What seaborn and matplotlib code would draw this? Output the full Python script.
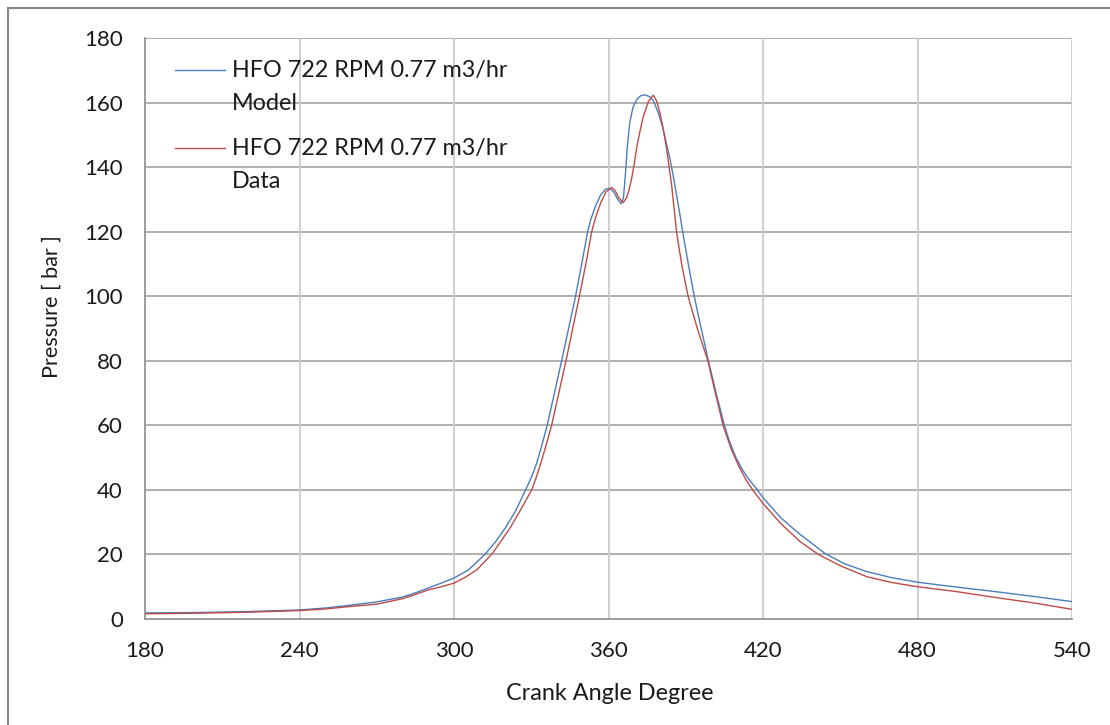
import numpy as np
import pandas as pd
import seaborn as sns
import matplotlib.pyplot as plt
from matplotlib.lines import Line2D
from matplotlib.legend_handler import HandlerLine2D

# Cylinder pressure vs crank angle, model vs measured
model_angle = [180, 200, 220, 240, 250, 260, 270, 280, 285, 290, 295, 300, 305.6, 312, 316,
               320, 324, 327.8, 330, 332, 334, 336.2, 339, 341.8, 344.5, 347.2, 349.6, 351.9,
               353, 355, 357, 359, 360.6, 362, 363.5, 364.9, 365.8, 366.5, 367.3, 368.3,
               369.5, 371, 372.5, 374.2, 376, 377.4, 379.5, 381.3, 382.7, 383.9, 385.2,
               386.5, 387.7, 388.8, 391, 393.3, 396, 398.8, 401.8, 405, 407, 409.5, 412,
               414.5, 417.5, 420, 427, 434.4, 444.1, 452, 460.3, 470, 480, 495, 510, 525, 540]
model_pressure = [1.9, 2.0, 2.3, 2.8, 3.4, 4.3, 5.3, 6.8, 8.1, 9.6, 11.1, 12.7, 15.2, 20, 23.8,
                  28.3, 33.6, 40, 43.8, 48, 53.5, 60, 70, 80, 90, 100, 110, 120,
                  123.5, 128, 131.5, 133.2, 133.4, 132.3, 130.2, 128.6, 130.5, 137, 146.3, 154,
                  158.5, 161, 162.1, 162.4, 161.8, 160.6, 156.5, 151.5, 146.5, 142.5, 137,
                  131, 125.5, 120, 110, 100, 90, 80, 70, 60, 55, 50, 46.3,
                  43.3, 40.3, 37.6, 31.3, 26.2, 20.3, 17, 14.7, 12.8, 11.4, 9.9, 8.5, 7.0, 5.4]

data_angle = [180, 200, 220, 240, 250, 260, 270, 280, 285, 290, 295, 300, 304.5, 308.8, 314.6,
              318, 322, 326, 330.2, 332, 334, 336, 337.9, 340.7, 343.5, 346.1, 348.7, 351.2,
              353.5, 355, 357, 359, 361.2, 362.5, 364, 365.7, 367, 368, 369, 370, 371,
              372.2, 373.5, 375.5, 377.4, 378.7, 380, 381.2, 382.2, 383.3, 384.5, 385.5,
              386.5, 388.5, 390.9, 394.5, 398.6, 401.5, 404.5, 407.5, 410.5, 413.5, 416,
              420, 427, 434.4, 441.5, 450, 460.3, 470, 480, 495, 510, 525, 540]
data_pressure = [1.6, 1.8, 2.1, 2.6, 3.1, 3.9, 4.6, 6.3, 7.6, 9.0, 10.0, 11.1, 13.0, 15.2, 20,
                 23.8, 28.5, 34, 40, 44, 49, 54.5, 60, 70, 80, 90, 100, 110,
                 120, 124.5, 129, 132.3, 133.7, 132.8, 130.5, 129.0, 130.5, 133, 136.5, 141, 146.3,
                 151, 155.6, 160.3, 162.3, 160.5, 156.7, 152, 147.5, 141.5, 134.5, 127,
                 119.5, 109.5, 100, 90, 80, 70, 60, 53, 47.5, 43, 40,
                 35.8, 29.5, 24, 20, 16.5, 13.1, 11.3, 10.0, 8.5, 6.7, 5.0, 3.0]

series_names = ["HFO 722 RPM 0.77 m3/hr\nModel", "HFO 722 RPM 0.77 m3/hr\nData"]
series_colors = ["#4a7ebb", "#be4b48"]
x_ticks = [180, 240, 300, 360, 420, 480, 540]
y_ticks = [0, 20, 40, 60, 80, 100, 120, 140, 160, 180]

df = pd.concat([
    pd.DataFrame({"angle": model_angle, "pressure": model_pressure, "series": series_names[0]}),
    pd.DataFrame({"angle": data_angle, "pressure": data_pressure, "series": series_names[1]}),
], ignore_index=True)

sns.set_theme(style="white")
plt.rcParams["font.family"] = ["Lato", "DejaVu Sans"]
FS = 16
LEG_FS = 16.8
TXT = "#1a1a1a"

fig = plt.figure(figsize=(11.1, 7.25), dpi=100)
ax = fig.add_axes([145 / 1110, 1 - 619 / 725, (1072 - 145) / 1110, (619 - 38) / 725])

sns.lineplot(data=df, x="angle", y="pressure", hue="series", hue_order=series_names,
             palette=series_colors, linewidth=1.0, sort=False, estimator=None,
             legend=False, ax=ax)

ax.set_xlim(180, 540)
ax.set_ylim(0, 180)
ax.set_xticks(x_ticks)
ax.set_yticks(y_ticks)

# gridlines: horizontal darker than vertical
for y in y_ticks[1:]:
    ax.axhline(y, color="#a9a9a9", lw=1.3, zorder=0.5)
for x in x_ticks[1:]:
    ax.axvline(x, color="#cbcbcb", lw=1.3, zorder=0.5)

for side in ["top", "right"]:
    ax.spines[side].set_visible(False)
for side in ["left", "bottom"]:
    ax.spines[side].set_color("#8c8c8c")
    ax.spines[side].set_linewidth(1.2)

ax.tick_params(axis="both", which="major", direction="out", length=6, width=1.0,
               color="#8c8c8c", labelsize=FS, labelcolor=TXT)
ax.tick_params(axis="y", pad=10)
ax.tick_params(axis="x", pad=10)

ax.set_xlabel("Crank Angle Degree", fontsize=16.8, color=TXT)
ax.set_ylabel("Pressure [ bar ]", fontsize=15.6, color=TXT)
ax.xaxis.set_label_coords((610 - 145) / 927, -(693 - 619) / 581)
ax.yaxis.set_label_coords(-(145 - 52) / 927, (619 - 307) / 581)
ax.xaxis.label.set_va("center")
ax.yaxis.label.set_va("center")


class FirstLineHandler(HandlerLine2D):
    """Legend line aligned with the first line of a two-line label."""

    def __init__(self, shift, **kw):
        super().__init__(**kw)
        self.shift = shift

    def create_artists(self, legend, orig_handle, xdescent, ydescent, width, height,
                       fontsize, trans):
        artists = super().create_artists(legend, orig_handle, xdescent, ydescent,
                                         width, height, fontsize, trans)
        for a in artists:
            a.set_ydata(np.asarray(a.get_ydata(), dtype=float) + self.shift)
        return artists


handles = [Line2D([0], [0], color=c, lw=1.0) for c in series_colors]
leg = fig.legend(handles, series_names, loc="upper left",
                 bbox_to_anchor=(175 / 1110, 1 - 60 / 725), frameon=False,
                 fontsize=LEG_FS, handlelength=2.15, handletextpad=0.3,
                 labelspacing=1.05, borderpad=0, borderaxespad=0,
                 handler_map={Line2D: FirstLineHandler(shift=12.6)})
for t in leg.get_texts():
    t.set_color(TXT)
    t.set_linespacing(1.68)

# outer chart frame
fig.add_artist(Line2D([8 / 1110, 1.0], [1 - 8 / 725, 1 - 8 / 725],
                      transform=fig.transFigure, color="#8a8a8a", lw=1.6))
fig.add_artist(Line2D([8 / 1110, 8 / 1110], [0.0, 1 - 8 / 725],
                      transform=fig.transFigure, color="#8a8a8a", lw=1.6))

fig.savefig("out.png", dpi=100, facecolor="white")
